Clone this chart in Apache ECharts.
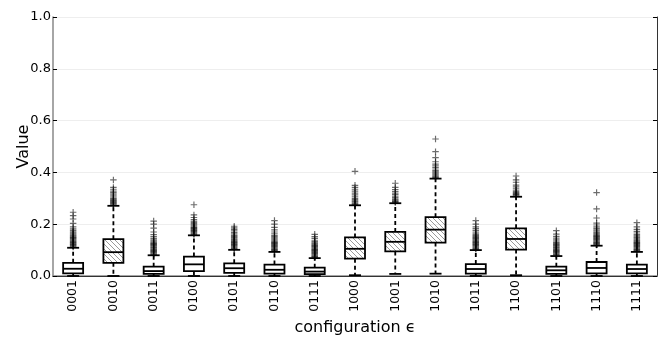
<!DOCTYPE html>
<html>
<head>
<meta charset="utf-8">
<script src="https://cdn.jsdelivr.net/npm/echarts@6/dist/echarts.min.js"></script>
<style>
  html, body { margin: 0; padding: 0; background: #fff; }
  #chart { width: 664px; height: 354px; }
</style>
</head>
<body>
<div id="chart"></div>
<script>
var categories = ['0001','0010','0011','0100','0101','0110','0111','1000','1001','1010','1011','1100','1101','1110','1111'];
var whiskLo = [0.0,0.0,0.0,0.0,0.0,0.0,0.0,0.003,0.008,0.009,0.0,0.003,0.0,0.0,0.0];
var q1      = [0.010,0.051,0.008,0.019,0.012,0.009,0.007,0.067,0.095,0.129,0.009,0.102,0.008,0.010,0.010];
var median  = [0.028,0.092,0.019,0.045,0.030,0.024,0.017,0.105,0.132,0.179,0.027,0.143,0.022,0.031,0.027];
var q3      = [0.051,0.142,0.036,0.075,0.049,0.044,0.032,0.149,0.170,0.227,0.046,0.184,0.036,0.054,0.044];
var whiskHi = [0.109,0.271,0.080,0.157,0.101,0.093,0.069,0.273,0.281,0.376,0.100,0.306,0.077,0.117,0.093];
var hatched = [0,1,0,0,0,0,0,1,1,1,0,1,0,0,0];
var yTicks = [0, 0.2, 0.4, 0.6, 0.8, 1.0];

// outliers per configuration, same order as categories
var outliers = [
  [0.112,0.115,0.118,0.121,0.124,0.127,0.13,0.133,0.136,0.139,0.142,0.145,0.148,0.151,0.155,0.159,0.163,0.167,0.171,0.176,0.182,0.19,0.203,0.22,0.233,0.246],
  [0.274,0.277,0.28,0.283,0.286,0.289,0.292,0.296,0.3,0.305,0.31,0.316,0.322,0.328,0.335,0.342,0.371],
  [0.083,0.086,0.089,0.092,0.095,0.098,0.101,0.104,0.107,0.11,0.113,0.116,0.119,0.122,0.125,0.128,0.132,0.136,0.14,0.145,0.152,0.16,0.17,0.185,0.2,0.212],
  [0.16,0.163,0.166,0.169,0.172,0.175,0.178,0.181,0.184,0.187,0.19,0.194,0.198,0.202,0.207,0.212,0.218,0.226,0.236,0.275],
  [0.103,0.106,0.109,0.112,0.115,0.118,0.121,0.124,0.127,0.13,0.133,0.136,0.139,0.142,0.146,0.15,0.154,0.158,0.163,0.168,0.174,0.18,0.186,0.192],
  [0.096,0.099,0.102,0.105,0.108,0.111,0.114,0.117,0.12,0.123,0.126,0.129,0.132,0.135,0.139,0.143,0.147,0.152,0.157,0.163,0.17,0.178,0.188,0.2,0.214],
  [0.072,0.075,0.078,0.081,0.084,0.087,0.09,0.093,0.096,0.099,0.102,0.105,0.108,0.111,0.114,0.117,0.12,0.124,0.128,0.133,0.138,0.145,0.152,0.161],
  [0.276,0.279,0.282,0.286,0.29,0.295,0.3,0.306,0.313,0.32,0.328,0.335,0.342,0.35,0.404],
  [0.284,0.287,0.29,0.294,0.298,0.303,0.308,0.314,0.32,0.327,0.334,0.342,0.358],
  [0.379,0.382,0.385,0.389,0.393,0.397,0.402,0.407,0.413,0.419,0.425,0.432,0.441,0.457,0.48,0.529],
  [0.103,0.106,0.109,0.112,0.115,0.118,0.121,0.124,0.127,0.13,0.133,0.136,0.139,0.142,0.145,0.148,0.152,0.156,0.16,0.165,0.17,0.176,0.183,0.19,0.2,0.214],
  [0.309,0.312,0.315,0.318,0.322,0.326,0.331,0.337,0.344,0.351,0.362,0.371,0.386],
  [0.08,0.083,0.086,0.089,0.092,0.095,0.098,0.101,0.104,0.107,0.11,0.113,0.116,0.119,0.122,0.126,0.13,0.135,0.14,0.146,0.153,0.162,0.175],
  [0.12,0.123,0.126,0.129,0.132,0.135,0.138,0.141,0.144,0.147,0.15,0.153,0.156,0.16,0.164,0.168,0.173,0.178,0.184,0.19,0.197,0.204,0.224,0.259,0.322],
  [0.096,0.099,0.102,0.105,0.108,0.111,0.114,0.117,0.12,0.123,0.126,0.129,0.132,0.135,0.138,0.142,0.146,0.15,0.155,0.16,0.166,0.172,0.18,0.19,0.206]
];

// hatch tile
var tile = document.createElement('canvas');
tile.width = 5; tile.height = 5;
var tctx = tile.getContext('2d');
tctx.strokeStyle = '#8f8f8f';
tctx.lineWidth = 0.9;
[-5, 0, 5].forEach(function (o) {
  tctx.beginPath();
  tctx.moveTo(o, 0);
  tctx.lineTo(o + 5, 5);
  tctx.stroke();
});

var boxData = categories.map(function (c, i) {
  return [i, whiskLo[i], q1[i], median[i], q3[i], whiskHi[i], hatched[i]];
});
var outlierData = [];
outliers.forEach(function (arr, i) {
  arr.forEach(function (v) { outlierData.push([i, v]); });
});

function renderBox(params, api) {
  var x = api.value(0);
  var lo = api.coord([x, api.value(1)]);
  var b1 = api.coord([x, api.value(2)]);
  var md = api.coord([x, api.value(3)]);
  var b3 = api.coord([x, api.value(4)]);
  var hi = api.coord([x, api.value(5)]);
  var hw = 10, cw = 6;
  var dashed = { stroke: '#000', lineWidth: 1.8, lineDash: [4, 3] };
  var solid = { stroke: '#000', lineWidth: 1.8 };
  return {
    type: 'group',
    children: [
      { type: 'line', shape: { x1: lo[0], y1: b1[1], x2: lo[0], y2: lo[1] }, style: dashed },
      { type: 'line', shape: { x1: hi[0], y1: b3[1], x2: hi[0], y2: hi[1] }, style: dashed },
      { type: 'line', shape: { x1: lo[0] - cw, y1: lo[1], x2: lo[0] + cw, y2: lo[1] }, style: solid },
      { type: 'line', shape: { x1: hi[0] - cw, y1: hi[1], x2: hi[0] + cw, y2: hi[1] }, style: solid },
      { type: 'rect', shape: { x: b3[0] - hw, y: b3[1], width: hw * 2, height: b1[1] - b3[1] },
        style: { fill: api.value(6) ? { image: tile, repeat: 'repeat' } : '#fff', stroke: '#000', lineWidth: 1.8 } },
      { type: 'line', shape: { x1: md[0] - hw, y1: md[1], x2: md[0] + hw, y2: md[1] }, style: solid }
    ]
  };
}

var chart = echarts.init(document.getElementById('chart'));
var option = {
  animation: false,
  textStyle: { fontFamily: 'DejaVu Sans' },
  grid: { left: 53, right: 7, top: 17, bottom: 78, containLabel: false, outerBoundsMode: 'none' },
  xAxis: [
    {
      type: 'category', data: categories, position: 'bottom',
      axisLine: { lineStyle: { color: '#888', width: 1.5 } },
      axisTick: { inside: true, length: 4, alignWithLabel: true, lineStyle: { color: '#000' } },
      axisLabel: { rotate: 90, fontSize: 12.5, color: '#000', margin: 4, fontFamily: 'DejaVu Sans' },
      name: 'configuration \u03f5', nameLocation: 'middle', nameGap: 44, nameMoveOverlap: false,
      nameTextStyle: { fontSize: 16, color: '#000', fontFamily: 'DejaVu Sans' }
    },
    {
      type: 'category', data: categories, position: 'top',
      axisLine: { lineStyle: { color: '#333', width: 1 } },
      axisTick: { inside: true, length: 4, alignWithLabel: true, lineStyle: { color: '#000' } },
      axisLabel: { show: false }
    }
  ],
  yAxis: [
    {
      type: 'value', min: 0, max: 1, interval: 0.2,
      axisLine: { show: true, lineStyle: { color: '#888', width: 1.5 } },
      axisTick: { show: true, inside: true, length: 4, lineStyle: { color: '#000' } },
      axisLabel: { fontSize: 13, color: '#000', margin: 2, fontFamily: 'DejaVu Sans',
        formatter: function (v) { return yTicks.indexOf(v) >= 0 ? v.toFixed(1) : ''; } },
      splitLine: { show: true, lineStyle: { color: '#eeeeee', width: 1 } },
      name: 'Value', nameLocation: 'middle', nameGap: 21, nameMoveOverlap: false,
      nameTextStyle: { fontSize: 16, color: '#000', fontFamily: 'DejaVu Sans' }
    },
    {
      type: 'value', min: 0, max: 1, interval: 0.2, position: 'right',
      axisLine: { show: true, lineStyle: { color: '#333', width: 1 } },
      axisTick: { show: true, inside: true, length: 4, lineStyle: { color: '#000' } },
      axisLabel: { show: false },
      splitLine: { show: false }
    }
  ],
  series: [
    {
      type: 'scatter', xAxisIndex: 0, yAxisIndex: 0,
      data: outlierData,
      symbol: 'path://M0,4.1H10V5.9H0ZM4.1,0H5.9V10H4.1Z',
      symbolSize: 6.5,
      itemStyle: { color: 'rgba(0,0,0,0.72)' },
      z: 3
    },
    {
      type: 'custom', xAxisIndex: 0, yAxisIndex: 0,
      data: boxData,
      encode: { x: 0, y: [1, 2, 3, 4, 5] },
      renderItem: renderBox,
      clip: false,
      z: 4
    }
  ]
};
chart.setOption(option);
</script>
</body>
</html>
